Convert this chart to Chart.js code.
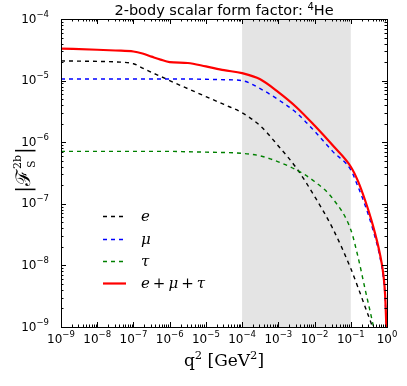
<!DOCTYPE html>
<html>
<head>
<meta charset="utf-8">
<script src="https://cdn.jsdelivr.net/npm/chart.js@4.4.1/dist/chart.umd.min.js"></script>
<style>
  html, body { margin: 0; padding: 0; background: #fff; }
  #wrap { width: 407px; height: 386px; }
</style>
</head>
<body>
<div id="wrap"><canvas id="myChart" width="407" height="386"></canvas></div>
<script>
// q^2 grid in GeV^2
const q2 = [1e-9, 1e-8, 3.16e-8, 1e-7, 1.78e-7, 3.16e-7, 5.62e-7, 1e-6, 3.16e-6, 1e-5, 3.16e-5, 1e-4,
            3.16e-4, 1e-3, 3.16e-3, 1e-2, 3.16e-2, 0.1, 0.158, 0.251, 0.398, 0.631, 0.794, 0.891, 1];

const ffE = [2.09e-5, 2.05e-5, 2.01e-5, 1.88e-5, 1.6e-5, 1.36e-5, 1.17e-5, 1.0e-5, 7.4e-6, 5.5e-6, 4.1e-6, 3.0e-6,
             1.85e-6, 8.7e-7, 3.8e-7, 1.32e-7, 4.0e-8, 8.9e-9, 4.4e-9, 2.1e-9, 1.0e-9, 4.5e-10, 2.8e-10, 2e-10, 1e-10];
const ffMu = [1.06e-5, 1.06e-5, 1.06e-5, 1.06e-5, 1.06e-5, 1.06e-5, 1.06e-5, 1.06e-5, 1.06e-5, 1.05e-5, 1.035e-5, 1.0e-5,
              7.4e-6, 4.9e-6, 3.0e-6, 1.51e-6, 7.1e-7, 3.55e-7, 1.9e-7, 9.3e-8, 4.0e-8, 1.41e-8, 6.3e-9, 2.8e-9, 4.5e-10];
const ffTau = [7.1e-7, 7.1e-7, 7.1e-7, 7.1e-7, 7.1e-7, 7.1e-7, 7.1e-7, 7.1e-7, 7.0e-7, 6.9e-7, 6.8e-7, 6.6e-7,
               6.0e-7, 4.8e-7, 3.55e-7, 2.3e-7, 1.22e-7, 3.8e-8, 1.38e-8, 4.0e-9, 1.2e-9, 3.2e-10, 1.6e-10, 1.2e-10, 1e-10];
const ffSum = [3.31e-5, 3.17e-5, 3.08e-5, 2.97e-5, 2.75e-5, 2.45e-5, 2.19e-5, 2.0e-5, 1.93e-5, 1.70e-5, 1.48e-5, 1.32e-5,
               1.05e-5, 6.5e-6, 3.7e-6, 1.86e-6, 8.9e-7, 4.0e-7, 2.34e-7, 1.12e-7, 4.7e-8, 1.58e-8, 7.1e-9, 3.2e-9, 5e-10];

const xTickExp = [-9, -8, -7, -6, -5, -4, -3, -2, -1, 0];
const yTickExp = [-9, -8, -7, -6, -5, -4];
const bandRange = [1e-4, 1e-1];

function pts(vals) {
  return vals.map((v, i) => ({ x: q2[i], y: v }));
}

const DASH = [4, 4];

const data = {
  datasets: [
    { label: 'e', data: pts(ffE), borderColor: '#000000', borderDash: DASH, borderWidth: 1.4, order: 3 },
    { label: 'μ', data: pts(ffMu), borderColor: '#0000ff', borderDash: DASH, borderWidth: 1.4, order: 2 },
    { label: 'τ', data: pts(ffTau), borderColor: '#008000', borderDash: DASH, borderWidth: 1.4, order: 1 },
    { label: 'e+μ+τ', data: pts(ffSum), borderColor: '#ff0000', borderWidth: 2.2, order: 0 }
  ]
};

function supText(ctx, base, exp, x, y, align, baseFont, expFont, rise) {
  ctx.font = baseFont;
  const wb = ctx.measureText(base).width;
  ctx.font = expFont;
  const we = ctx.measureText(exp).width;
  let x0 = x;
  if (align === 'center') x0 = x - (wb + we) / 2;
  if (align === 'right') x0 = x - (wb + we);
  ctx.textAlign = 'left';
  ctx.font = baseFont;
  ctx.fillText(base, x0, y);
  ctx.font = expFont;
  ctx.fillText(exp, x0 + wb, y - rise);
}

const decor = {
  id: 'decor',
  beforeDatasetsDraw(chart) {
    const { ctx, chartArea: a, scales: { x } } = chart;
    const x0 = x.getPixelForValue(bandRange[0]);
    const x1 = x.getPixelForValue(bandRange[1]);
    ctx.save();
    ctx.fillStyle = '#e4e4e4';
    ctx.fillRect(x0, a.top, x1 - x0, a.bottom - a.top);
    ctx.restore();
  },
  afterDatasetsDraw(chart) {
    const { ctx, chartArea: a, scales: { x, y } } = chart;
    ctx.save();
    ctx.strokeStyle = '#000';
    ctx.fillStyle = '#000';
    ctx.lineWidth = 1;

    // ticks, inward on all sides
    ctx.beginPath();
    for (let k = -9; k <= 0; k++) {
      for (let m = 1; m <= 9; m++) {
        const v = m * Math.pow(10, k);
        if (v > 1.0001) continue;
        const px = Math.round(x.getPixelForValue(v)) + 0.5;
        const len = m === 1 ? 5 : 2.5;
        ctx.moveTo(px, a.bottom); ctx.lineTo(px, a.bottom - len);
        ctx.moveTo(px, a.top); ctx.lineTo(px, a.top + len);
      }
    }
    for (let k = -9; k <= -4; k++) {
      for (let m = 1; m <= 9; m++) {
        const v = m * Math.pow(10, k);
        if (v > 1.0001e-4) continue;
        const py = Math.round(y.getPixelForValue(v)) + 0.5;
        const len = m === 1 ? 5 : 2.5;
        ctx.moveTo(a.left, py); ctx.lineTo(a.left + len, py);
        ctx.moveTo(a.right, py); ctx.lineTo(a.right - len, py);
      }
    }
    ctx.stroke();

    // frame
    ctx.strokeRect(Math.round(a.left) + 0.5, Math.round(a.top) + 0.5,
                   Math.round(a.right - a.left), Math.round(a.bottom - a.top));

    // tick labels
    const bf = '12px "DejaVu Sans"';
    const ef = '8.5px "DejaVu Sans"';
    ctx.textBaseline = 'alphabetic';
    xTickExp.forEach(e => {
      const px = x.getPixelForValue(Math.pow(10, e));
      const s = e < 0 ? '\u2212' + (-e) : String(e);
      supText(ctx, '10', s, px, 343, 'center', bf, ef, 6);
    });
    yTickExp.forEach(e => {
      const py = y.getPixelForValue(Math.pow(10, e));
      supText(ctx, '10', '\u2212' + (-e), 49, py + 3.5, 'right', bf, ef, 6);
    });

    // title
    const tf = '14.5px "DejaVu Sans"';
    ctx.font = tf;
    const t1 = '2-body scalar form factor: ';
    const w1 = ctx.measureText(t1).width;
    ctx.font = '10px "DejaVu Sans"';
    const w2 = ctx.measureText('4').width;
    ctx.font = tf;
    const w3 = ctx.measureText('He').width;
    let tx = (a.left + a.right) / 2 - (w1 + w2 + w3) / 2;
    ctx.textAlign = 'left';
    ctx.fillText(t1, tx, 15);
    ctx.font = '10px "DejaVu Sans"';
    ctx.fillText('4', tx + w1, 10);
    ctx.font = tf;
    ctx.fillText('He', tx + w1 + w2, 15);

    // x axis label: q^2 [GeV^2]
    const sf = '17px "DejaVu Serif"';
    const ssf = '11.5px "DejaVu Serif"';
    const parts = [['q', sf, 0], ['2', ssf, 7], [' [GeV', sf, 0], ['2', ssf, 7], [']', sf, 0]];
    let total = 0;
    parts.forEach(p => { ctx.font = p[1]; total += ctx.measureText(p[0]).width; });
    let lx = (a.left + a.right) / 2 - total / 2;
    parts.forEach(p => {
      ctx.font = p[1];
      ctx.fillText(p[0], lx, 366 - p[2]);
      lx += ctx.measureText(p[0]).width;
    });

    // y axis label: |F_S^2b|
    ctx.translate(24, 170);
    ctx.rotate(-Math.PI / 2);
    ctx.font = '20px "DejaVu Serif"';
    const bar = '|';
    const wb = ctx.measureText(bar).width;
    const wf = ctx.measureText('\u2131').width;
    ctx.font = '11px "DejaVu Serif"';
    const wsup = ctx.measureText('2b').width;
    const ylw = wb * 2 + wf + wsup + 2;
    let yx = -ylw / 2;
    ctx.font = '20px "DejaVu Serif"';
    ctx.fillText(bar, yx, 6); yx += wb;
    ctx.fillText('\u2131', yx, 6); yx += wf + 1;
    ctx.font = '11px "DejaVu Serif"';
    ctx.fillText('2b', yx, -3);
    ctx.fillText('S', yx + 1, 11);
    yx += wsup + 1;
    ctx.font = '20px "DejaVu Serif"';
    ctx.fillText(bar, yx, 6);
    ctx.setTransform(1, 0, 0, 1, 0, 0);

    // legend
    const rows = [216, 239, 261, 283];
    chart.data.datasets.forEach((ds, i) => {
      const ly = rows[i] + 0.5;
      ctx.save();
      ctx.beginPath();
      ctx.strokeStyle = ds.borderColor;
      ctx.lineWidth = i === 3 ? 2.2 : 1.6;
      ctx.setLineDash(ds.borderDash || []);
      ctx.moveTo(103, ly);
      ctx.lineTo(i === 3 ? 126 : 124, ly);
      ctx.stroke();
      ctx.restore();
    });
    ctx.setLineDash([]);
    ctx.fillStyle = '#000';
    const itf = 'italic 15px "DejaVu Serif"';
    const upf = '15px "DejaVu Serif"';
    const legText = [
      [['e', itf]],
      [['μ', itf]],
      [['τ', itf]],
      [['e', itf], ['\u2009+\u2009', upf], ['μ', itf], ['\u2009+\u2009', upf], ['τ', itf]]
    ];
    legText.forEach((segs, i) => {
      let gx = 141;
      segs.forEach(s => {
        ctx.font = s[1];
        ctx.fillText(s[0], gx, rows[i] + 5);
        gx += ctx.measureText(s[0]).width;
      });
    });
    ctx.restore();
  }
};

const config = {
  type: 'line',
  data: data,
  options: {
    responsive: false,
    animation: false,
    devicePixelRatio: 1,
    layout: { padding: { top: 19, right: 20, left: 0, bottom: 0 } },
    elements: {
      point: { radius: 0 },
      line: { cubicInterpolationMode: 'monotone', fill: false }
    },
    plugins: {
      legend: { display: false },
      title: { display: false },
      tooltip: { enabled: false }
    },
    scales: {
      x: {
        type: 'logarithmic',
        min: 1e-9,
        max: 1,
        ticks: { display: false },
        grid: { display: false },
        border: { display: false },
        afterFit: s => { s.height = 59; }
      },
      y: {
        type: 'logarithmic',
        min: 1e-9,
        max: 1e-4,
        ticks: { display: false },
        grid: { display: false },
        border: { display: false },
        afterFit: s => { s.width = 61; }
      }
    }
  },
  plugins: [decor]
};

const myChart = new Chart(document.getElementById('myChart'), config);
</script>
</body>
</html>
